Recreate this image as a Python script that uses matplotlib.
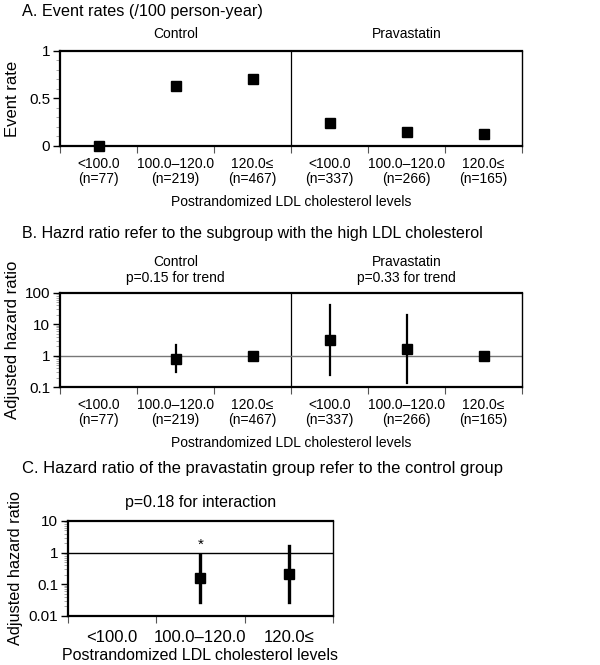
import matplotlib.pyplot as plt
import matplotlib.transforms as mtransforms
from matplotlib.ticker import MultipleLocator, LogLocator, NullFormatter
import numpy as np

plt.rcParams['font.family'] = ['Liberation Sans', 'DejaVu Sans']
plt.rcParams['font.size'] = 10

# data
groups = ['Control', 'Pravastatin']
levels = ['<100.0', '100.0\u2013120.0', '120.0\u2264']
n_control = [77, 219, 467]
n_prava = [337, 266, 165]

rate_control = [0.0, 0.63, 0.70]
rate_prava = [0.24, 0.15, 0.13]

# hazard ratios vs high LDL subgroup (None = not estimable)
hr_control = [None, 0.8, 1.0]
lo_control = [None, 0.3, None]
hi_control = [None, 2.2, None]
hr_prava = [3.2, 1.6, 1.0]
lo_prava = [0.25, 0.13, None]
hi_prava = [40.0, 20.0, None]
p_trend = ['p=0.15 for trend', 'p=0.33 for trend']

# pravastatin vs control
hr_int = [None, 0.155, 0.21]
lo_int = [None, 0.027, 0.027]
hi_int = [None, 0.84, 1.62]
p_int = 'p=0.18 for interaction'

xlab = 'Postrandomized LDL cholesterol levels'


def style_axes(ax, ncat):
    for s in ['top', 'left', 'bottom']:
        ax.spines[s].set_linewidth(1.6)
    ax.spines['right'].set_linewidth(1.0)
    ax.set_xlim(-0.5, ncat - 0.5)
    ax.set_xticks(np.arange(ncat + 1) - 0.5)
    ax.set_xticklabels([])
    ax.tick_params(axis='x', which='major', direction='out', length=5, width=0.8, color='#555555')
    ax.tick_params(axis='x', which='minor', length=0, pad=8)
    ax.tick_params(axis='y', which='major', direction='out', length=5, width=1, labelsize=11, pad=2)
    ax.tick_params(axis='y', which='minor', direction='out', length=3, width=0.6, color='#999999')


def cat_labels(ax, ns, size=10):
    labs = []
    for i, n in enumerate(ns):
        lv = levels[i % 3]
        labs.append(f'{lv}\n(n={n})' if n is not None else lv)
    ax.set_xticks(np.arange(len(labs)), labs, minor=True, fontsize=size)
    for t in ax.get_xticklabels(minor=True):
        t.set_linespacing(1.1)


def draw_ci(ax, xs, hr, lo, hi, lw):
    for x, h, l, u in zip(xs, hr, lo, hi):
        if l is not None:
            ax.plot([x, x], [l, u], color='black', lw=lw, zorder=3)
        if h is not None:
            ax.plot(x, h, 's', color='black', ms=7, zorder=4)


fig = plt.figure(figsize=(6, 6.65), dpi=100)

# A
axA = fig.add_axes([0.1, 0.7805, 0.77, 0.1429])
style_axes(axA, 6)
axA.set_ylim(0, 1)
axA.set_yticks([0, 0.5, 1], ['0', '0.5', '1'])
axA.yaxis.set_minor_locator(MultipleLocator(0.1))
axA.axvline(2.5, color='black', lw=0.9)
axA.plot(np.arange(6), rate_control + rate_prava, 's', color='black', ms=7, zorder=4, clip_on=False)
cat_labels(axA, n_control + n_prava)
axA.set_xlabel(xlab, fontsize=10, labelpad=6)
axA.set_ylabel('Event rate', fontsize=12)
axA.yaxis.set_label_coords(-0.087, 0.5)
trA = mtransforms.blended_transform_factory(axA.transData, axA.transAxes)
for i, g in enumerate(groups):
    axA.text(1 + 3 * i, 1.1, g, transform=trA, ha='center', va='bottom', fontsize=10)
fig.text(0.037, 0.982, 'A. Event rates (/100 person-year)', fontsize=11.7, va='center')

# B
axB = fig.add_axes([0.1, 0.418, 0.77, 0.1414])
style_axes(axB, 6)
axB.set_yscale('log')
axB.set_ylim(0.1, 100)
axB.set_yticks([0.1, 1, 10, 100], ['0.1', '1', '10', '100'])
axB.yaxis.set_minor_locator(LogLocator(base=10, subs=np.arange(2, 10)))
axB.yaxis.set_minor_formatter(NullFormatter())
axB.axvline(2.5, color='black', lw=0.9)
axB.axhline(1, color='#777777', lw=1.0)
draw_ci(axB, np.arange(6), hr_control + hr_prava, lo_control + lo_prava, hi_control + hi_prava, 1.6)
cat_labels(axB, n_control + n_prava)
axB.set_xlabel(xlab, fontsize=10, labelpad=6)
axB.set_ylabel('Adjusted hazard ratio', fontsize=12)
axB.yaxis.set_label_coords(-0.087, 0.5)
trB = mtransforms.blended_transform_factory(axB.transData, axB.transAxes)
for i, g in enumerate(groups):
    axB.text(1 + 3 * i, 1.08, g + '\n' + p_trend[i], transform=trB, ha='center', va='bottom',
             fontsize=10, linespacing=1.2)
fig.text(0.037, 0.649, 'B. Hazrd ratio refer to the subgroup with the high LDL cholesterol',
         fontsize=11.5, va='center')

# C
axC = fig.add_axes([0.1133, 0.0737, 0.4417, 0.1429])
style_axes(axC, 3)
axC.set_yscale('log')
axC.set_ylim(0.01, 10)
axC.set_yticks([0.01, 0.1, 1, 10], ['0.01', '0.1', '1', '10'])
axC.yaxis.set_minor_locator(LogLocator(base=10, subs=np.arange(2, 10)))
axC.yaxis.set_minor_formatter(NullFormatter())
axC.axhline(1, color='black', lw=1.0)
draw_ci(axC, np.arange(3), hr_int, lo_int, hi_int, 2.4)
axC.text(1, 1.75, '*', ha='center', va='center', fontsize=11)
cat_labels(axC, [None, None, None], size=12)
axC.tick_params(axis='x', which='minor', pad=10)
axC.set_xlabel(xlab, fontsize=11.5, labelpad=2)
axC.set_ylabel('Adjusted hazard ratio', fontsize=11.7)
axC.yaxis.set_label_coords(-0.17, 0.5)
axC.text(0.5, 1.12, p_int, transform=axC.transAxes, ha='center', va='bottom', fontsize=11.5)
fig.text(0.037, 0.296, 'C. Hazard ratio of the pravastatin group refer to the control group',
         fontsize=12, va='center')

fig.savefig('out.png', dpi=100)
